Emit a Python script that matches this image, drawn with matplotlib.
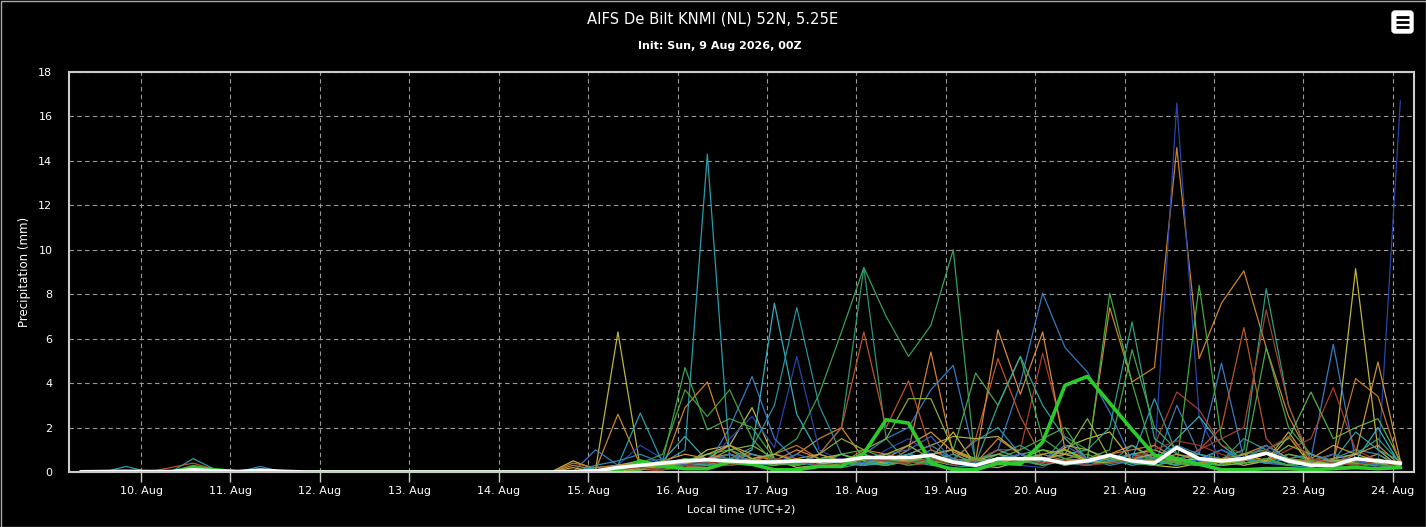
import pandas as pd
import matplotlib
matplotlib.use("Agg")
import matplotlib.pyplot as plt
import matplotlib.dates as mdates
from matplotlib.patches import FancyBboxPatch, Rectangle

TITLE = "AIFS De Bilt KNMI (NL) 52N, 5.25E"
SUBTITLE = "Init: Sun, 9 Aug 2026, 00Z"

# 6-hourly steps in local time (UTC+2), first step 9 Aug 08:00
times = pd.date_range("2026-08-09 08:00", periods=60, freq="6h")

# ensemble members, precipitation per 6 h (mm)
m01 = [0,0,0,0,0,0,0,0,0,0, 0,0,0,0,0,0,0,0,0,0,
       0,0,.5,.1,6.3,.2,.1,.3,1.0,1.2, 2.9,.6,.2,.3,.5,.8,.4,.5,.6,1.8,
       .3,.2,.5,.4,1.1,1.5,1.8,.5,.3,.2, .4,.3,.6,.4,1.6,.3,.3,9.15,1.0,.2]
m02 = [0,0,0,0,0,.1,0,0,0,0, 0,0,0,0,0,0,0,0,0,0,
       0,0,.3,.1,2.6,.3,.2,2.9,4.05,1.0, .4,.3,.8,1.5,2.0,.6,.4,1.0,5.4,.8,
       .4,1.5,.8,.5,1.0,.6,7.4,4.05,4.7,14.6, 5.1,7.6,9.05,5.6,2.5,.6,.3,.5,.8,.2]
m03 = [0,0,0,0,0,0,0,0,0,0, 0,0,0,0,0,0,0,0,0,0,
       0,0,0,.1,.3,1.2,.6,.3,.4,1.5, 2.5,1.1,5.2,1.0,.5,.3,1.0,1.5,.8,.4,
       .2,.5,.3,.2,.8,.6,.5,.4,.5,16.6, 2.5,.4,.3,.5,.3,.2,.4,.6,.2,16.7]
m04 = [0,0,0,0,0,0,0,0,0,0, 0,0,0,0,0,0,0,0,0,0,
       0,0,0,1.0,.3,.5,.3,.2,.3,2.0, 4.3,1.5,.5,.3,.5,.8,1.5,2.0,3.7,4.8,
       .5,1.0,4.0,8.05,5.6,4.5,2.7,.5,.3,3.0, .8,4.9,.6,.4,.3,.6,5.75,.5,.3,.2]
m05 = [0,0,.25,0,0,.6,.1,0,.1,0, 0,0,0,0,0,0,0,0,0,0,
       0,0,0,.2,.3,2.65,.4,1.0,14.3,.6, .4,.3,.5,.3,.2,.4,.3,.5,.3,.2,
       .3,.5,.8,.4,.6,.3,.5,.6,3.3,.8, .5,.3,.4,.6,.3,.2,.5,.3,.4,.2]
m06 = [0,0,0,0,0,0,0,0,0,0, 0,0,0,0,0,0,0,0,0,0,
       0,0,0,0,.1,.3,.5,1.6,.5,.4, 1.0,7.6,2.6,.8,.5,.3,.4,.6,.5,.3,
       .4,1.0,.6,.3,.5,.4,.6,.3,.5,1.5, 2.5,1.2,.5,.8,.4,.3,.2,.5,2.0,.3]
m07 = [0,0,0,0,0,0,0,0,0,0, 0,0,0,0,0,0,0,0,0,0,
       0,0,0,0,0,.2,.3,.5,.8,.6, 1.1,3.0,7.4,3.0,.8,.4,.3,.5,1.0,.6,
       1.4,2.0,.8,.5,.4,.6,.3,.5,.4,.6, .8,.5,1.5,1.0,.5,.3,.6,1.0,.8,.3]
m08 = [0,0,0,0,0,0,0,0,0,0, 0,0,0,0,0,0,0,0,0,0,
       0,0,0,0,0,.1,.2,.3,.5,.4, .6,.8,1.5,3.5,6.3,9.2,7.0,5.2,6.6,10.0,
       .3,.5,.4,.6,.3,.5,.8,.4,.3,.5, .4,.3,.6,.5,.3,.4,.3,.2,.4,.3]
m09 = [0,0,0,0,0,0,0,0,0,0, 0,0,0,0,0,0,0,0,0,0,
       0,0,0,0,.1,.2,.3,.6,.4,.3, .5,.3,.4,.8,2.0,9.2,1.5,.4,.6,.5,
       .3,.8,.5,.4,1.6,1.0,.6,.8,.5,.3, .6,.4,.8,.5,.3,.6,.4,.3,.5,.2]
m10 = [0,0,0,0,.2,.4,.1,0,0,0, 0,0,0,0,0,0,0,0,0,0,
       0,0,0,0,.2,.5,.3,.2,.4,.6, .8,.5,.3,.8,2.0,6.3,2.0,4.1,1.0,.5,
       1.5,5.1,2.5,.6,.4,.3,.5,.8,.6,.4, 1.0,2.0,6.5,1.5,.4,.3,.6,.4,.3,.2]
m11 = [0,0,0,0,0,0,0,0,0,0, 0,0,0,0,0,0,0,0,0,0,
       0,0,0,0,0,.1,.2,.3,.2,.5, .6,.4,.3,.5,.6,.4,.5,.3,.4,.6,
       .5,1.0,1.0,5.35,1.5,.5,.4,.6,1.2,3.6, 2.8,1.2,.8,.5,1.0,1.5,3.8,1.0,.5,.3]
m12 = [0,0,0,0,0,0,0,0,0,0, 0,0,0,0,0,0,0,0,0,0,
       0,0,0,0,.1,.3,.5,.8,.6,1.2, .8,.5,1.0,.6,.4,.3,.6,1.2,1.8,.9,
       .5,6.4,3.5,6.3,1.0,.5,.8,1.2,.6,.4, .3,.5,.8,1.2,.6,.4,.3,.8,1.2,.3]
m13 = [0,0,0,0,0,0,0,0,0,0, 0,0,0,0,0,0,0,0,0,0,
       0,0,0,0,0,.1,.3,.5,.8,1.0, .6,.4,.3,.5,.8,1.0,.6,.4,.8,1.0,
       .5,.6,1.0,1.5,2.0,.5,8.05,4.0,.6,.3, 8.4,1.5,.4,.6,.3,.5,.8,.4,.3,.5]
m14 = [0,0,0,0,0,0,0,0,0,0, 0,0,0,0,0,0,0,0,0,0,
       0,0,0,0,0,.2,.4,.3,.5,.6, .4,.6,.3,.5,.4,.3,.5,.8,.6,.4,
       .6,.8,1.2,.6,.8,1.0,2.0,6.75,1.5,.8, .5,.6,1.0,8.25,3.0,.4,.6,.8,1.5,.4]
m15 = [0,0,0,0,0,0,0,0,0,0, 0,0,0,0,0,0,0,0,0,0,
       0,0,0,0,0,.1,.2,.5,.3,.4, .3,.5,.4,.6,.5,.8,.5,.4,.8,1.0,
       4.45,3.0,5.2,1.5,.8,.6,1.0,5.5,2.0,1.0, .8,.6,.4,5.6,2.0,.8,.4,.3,.6,.3]
m16 = [0,0,0,0,0,0,0,0,0,0, 0,0,0,0,0,0,0,0,0,0,
       0,0,0,0,0,0,.1,.2,.4,.3, .5,.8,.6,.4,.3,.6,.8,.5,.4,.6,
       .3,.5,.4,.6,.3,.5,.4,.8,.6,.5, 1.0,1.5,2.0,7.3,3.0,.5,.8,.4,.3,.2]
m17 = [0,0,0,0,0,0,0,0,0,0, 0,0,0,0,0,0,0,0,0,0,
       0,0,0,0,0,.1,.3,.5,.5,1.0, 1.2,.6,.4,.8,1.5,1.0,1.5,3.3,3.3,1.0,
       .5,.8,.6,1.0,.8,2.4,.6,.5,.8,.4, .6,.3,.4,.5,1.2,.8,.5,.4,.3,.2]
m18 = [0,0,0,0,0,0,0,0,0,0, 0,0,0,0,0,0,0,0,0,0,
       0,0,.2,0,.3,.5,.2,.4,.8,1.2, .6,.4,.3,.6,.8,.5,.4,.8,1.2,1.6,
       1.5,1.6,.8,.4,1.2,1.0,.5,.8,1.0,.6, .4,.6,.3,.5,1.8,.4,.6,.8,.5,.3]
m19 = [0,0,0,0,0,0,0,0,0,0, 0,0,0,0,0,0,0,0,0,0,
       0,0,0,0,0,.2,.3,.4,.3,.6, .4,.5,.3,.6,.5,.8,.4,.6,.5,.8,
       .4,3.0,5.2,3.0,1.5,.6,.4,1.2,.5,.3, .6,1.0,.5,1.2,.6,.4,.5,1.8,1.0,.5]
m20 = [0,0,0,0,0,.3,.1,0,0,0, 0,0,0,0,0,0,0,0,0,0,
       0,0,0,0,0,.1,.4,.6,.5,.8, .5,.3,.6,.4,.8,.5,.3,.6,.4,.5,
       .6,.4,.8,1.0,.6,.5,.4,.6,.8,.4, .3,.6,.8,1.0,1.5,3.6,1.5,2.0,2.4,.5]
m21 = [0,0,0,0,0,0,0,0,0,0, 0,0,0,0,0,0,0,0,0,0,
       0,0,.4,.2,.3,.4,.2,.5,.6,.8, .5,.8,1.2,.6,.4,1.0,.8,.5,.4,.6,
       .3,.6,.4,.8,.5,.6,.8,1.0,1.2,.6, .4,.6,.5,.8,.6,.5,.5,4.2,3.4,.3]
m22 = [0,0,0,0,0,0,0,0,0,0, 0,0,0,0,0,0,0,0,0,0,
       0,0,0,0,0,.2,.3,.4,.6,.8, .5,.4,.6,.8,.5,.4,.6,.5,.8,1.0,
       .6,.5,.4,.6,.8,.5,.4,.6,.5,.8, .6,.4,.8,.5,.8,.6,1.2,.8,4.95,.5]
m23 = [0,0,0,0,0,0,0,0,0,0, 0,0,0,0,0,0,0,0,0,0,
       0,0,0,0,0,.3,.5,4.7,1.9,2.4, 2.0,.6,.3,.5,.4,.6,.3,.5,.4,.6,
       .3,.5,.4,.6,.3,.5,.6,.4,.3,.5, .4,.3,.6,.4,.8,.5,.3,.4,.3,.2]
m24 = [0,0,0,0,0,0,0,0,0,0, 0,0,0,0,0,0,0,0,0,0,
       0,0,0,0,.1,.4,.8,3.7,2.5,3.7, 1.5,.4,.3,.6,.5,.4,.6,.3,.5,.4,
       .6,.4,.5,.3,.6,.8,.4,.5,.6,.4, .3,.5,.4,.6,.3,.4,.5,.3,.6,.2]
m25 = [0,0,0,0,0,0,0,0,.25,0, 0,0,0,0,0,0,0,0,0,0,
       0,0,0,.3,.5,.8,.4,.3,.6,.5, .8,.6,.4,.3,.5,.3,.6,.8,1.2,.6,
       .3,.5,.8,.6,.4,.3,.5,.8,.6,1.2, .8,.5,.6,.4,.6,.8,.5,.6,.4,.3]
m26 = [0,0,0,0,0,0,0,0,.15,0, 0,0,0,0,0,0,0,0,0,0,
       0,0,0,0,.2,.4,.6,.3,.5,.8, .5,.4,.8,.5,.6,.4,.8,1.0,1.6,.5,
       .4,.6,.8,.5,1.2,.6,.4,.5,.8,.6, .5,1.0,.6,1.2,.5,.4,.8,.5,.3,.2]
m27 = [0,0,0,0,0,0,0,0,0,0, 0,0,0,0,0,0,0,0,0,0,
       0,0,0,0,0,.2,.3,.4,.6,.4, .6,.8,.5,.4,.3,.6,.8,1.2,.6,.4,
       .5,.4,.6,.8,1.0,.5,.4,.6,.8,.5, .6,.4,.5,.8,.6,.4,.5,.6,.4,.3]
m28 = [0,0,0,0,0,0,0,0,0,0, 0,0,0,0,0,0,0,0,0,0,
       0,0,0,0,.1,.2,.1,.3,.5,.3, .4,.6,.5,.3,.4,.6,.5,.4,.6,.3,
       .5,.3,.6,.4,.5,.3,.4,.6,1.0,1.4, 1.2,.8,.5,1.0,1.6,.6,.4,.3,.5,.2]

members = [m01, m02, m03, m04, m05, m06, m07, m08, m09, m10, m11, m12, m13, m14,
           m15, m16, m17, m18, m19, m20, m21, m22, m23, m24, m25, m26, m27, m28]
member_colors = ["#c9bd3d", "#d98a2c", "#2a48b4", "#3b7fc9", "#2aa4b4", "#36b6c2",
                 "#2c98a6", "#3aa85a", "#2f9c6e", "#c4582c", "#b3402c", "#e0913a",
                 "#45b242", "#2fa78c", "#4aac50", "#a8482c", "#8cb63c", "#bcb044",
                 "#35a8a0", "#58ba48", "#c97c2e", "#d49a3a", "#3cae4c", "#4aa63a",
                 "#3090b8", "#3468c0", "#a0b83a", "#9c3c2c"]

control = [0,0,0,0,0,.2,.1,0,0,0, 0,0,0,0,0,0,0,0,0,0,
           0,0,0,.05,.05,.5,.25,.15,.15,.45, .35,.1,.1,.25,.25,.85,2.35,2.2,.4,.1,
           .1,.4,.35,1.35,3.9,4.3,3.1,1.9,.75,.6, .35,.1,.1,.15,.15,.1,.15,.2,.15,.2]
mean = [.01,.02,.03,.02,.02,.1,.05,.02,.08,.03, 0,0,0,0,0,0,0,0,0,0,
        0,0,.02,.05,.2,.3,.4,.5,.55,.5, .45,.45,.5,.5,.5,.65,.65,.65,.75,.45,
        .3,.6,.6,.6,.4,.5,.75,.5,.4,1.1, .6,.5,.6,.85,.5,.3,.3,.6,.5,.4]

W, H = 1426, 527
fig = plt.figure(figsize=(W / 100, H / 100), dpi=100, facecolor="black")
ax = fig.add_axes([69 / W, 1 - 472 / H, (1414 - 69) / W, (472 - 72) / H])
ax.set_facecolor("black")

for vals, col in zip(members, member_colors):
    ax.plot(times, vals, color=col, lw=0.9, alpha=0.95)
ax.plot(times, control, color="#2bcb2b", lw=2.6, solid_joinstyle="round")
ax.plot(times, mean, color="white", lw=2.6, solid_joinstyle="round")

ax.set_ylim(0, 18)
ax.set_yticks(range(0, 19, 2))
ax.set_xlim(pd.Timestamp("2026-08-09 04:40"), pd.Timestamp("2026-08-24 05:40"))
ax.xaxis.set_major_locator(mdates.DayLocator())
ax.xaxis.set_major_formatter(mdates.DateFormatter("%d. %b"))

ax.grid(True, color="#9a9a9a", lw=0.8, linestyle=(0, (4, 3)))
ax.set_axisbelow(True)
for s in ax.spines.values():
    s.set_color("#cccccc")
    s.set_linewidth(1.5)
ax.tick_params(axis="y", length=0, pad=12, colors="white", labelsize=8)
ax.tick_params(axis="x", length=7, width=1, color="#cccccc", pad=3,
               labelcolor="white", labelsize=8)

ax.set_ylabel("Precipitation (mm)", color="white", fontsize=8.5, labelpad=5)
ax.set_xlabel("Local time (UTC+2)", color="white", fontsize=8, labelpad=6)

fig.text(713 / W, 1 - 19 / H, TITLE, color="white", fontsize=10.6, ha="center", va="center")
fig.text(720 / W, 1 - 46 / H, SUBTITLE, color="white", fontsize=8, ha="center",
         va="center", fontweight="bold")

# overlay in pixel units for the menu button and the outer border
over = fig.add_axes([0, 0, 1, 1], zorder=5)
over.set_xlim(0, W)
over.set_ylim(H, 0)
over.axis("off")
over.patch.set_alpha(0)
over.add_patch(FancyBboxPatch((1392, 11), 21, 22, boxstyle="round,pad=0,rounding_size=3",
                              facecolor="white", edgecolor="white"))
for yy in (17, 22, 27):
    over.plot([1396, 1409], [yy, yy], color="black", lw=2, solid_capstyle="butt")
over.add_patch(Rectangle((0.5, 0.5), W - 1, H - 1, fill=False, edgecolor="#aaaaaa", lw=1))

fig.savefig("out.png", dpi=100, facecolor="black")
